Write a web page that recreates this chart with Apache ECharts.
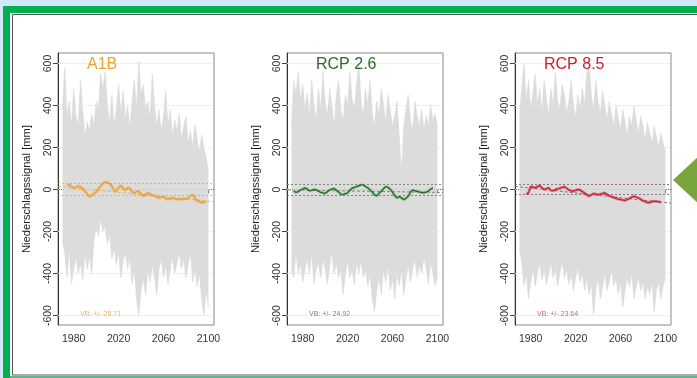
<!DOCTYPE html>
<html>
<head>
<meta charset="utf-8">
<script src="https://cdn.jsdelivr.net/npm/echarts@6/dist/echarts.min.js"></script>
<style>
  html, body { margin: 0; padding: 0; background: #cfe9f8; }
  #chart { width: 697px; height: 378px; }
</style>
</head>
<body>
<div id="chart"></div>
<script>
// Jahre der Ensemble-Hüllkurve (alle 2 Jahre)
const envStart = 1970
const envStep = 2

// A1B: obere / untere Hüllkurve des Ensembles [mm]
const upperA1B = [380, 580, 350, 420, 300, 480, 350, 300, 520, 380, 250, 320, 280, 360, 300, 420, 380, 550, 480, 560,
  400, 320, 450, 300, 380, 500, 360, 470, 330, 400, 290, 420, 520, 380, 610, 450, 500, 380, 420, 330,
  550, 400, 300, 380, 280, 350, 470, 300, 380, 250, 330, 280, 360, 240, 300, 350, 220, 280, 200, 310,
  240, 180, 260, 200, 150, 90]
const lowerA1B = [-250, -300, -420, -280, -450, -380, -320, -400, -350, -430, -300, -380, -320, -400, -250, -180, -220, -140, -200, -170,
  -260, -210, -330, -280, -360, -300, -420, -340, -300, -380, -320, -450, -380, -520, -600, -480, -420, -500, -380, -440,
  -360, -420, -500, -380, -330, -420, -360, -450, -380, -320, -400, -350, -300, -380, -330, -420, -360, -300, -440, -380,
  -460, -400, -520, -600, -480, -560]

// RCP 2.6
const upperRCP26 = [300, 520, 450, 560, 420, 500, 380, 460, 350, 520, 400, 330, 480, 380, 560, 420, 350, 480, 400, 300,
  450, 520, 380, 330, 450, 400, 560, 430, 380, 500, 600, 420, 350, 480, 400, 520, 360, 300, 420, 350,
  480, 400, 320, 450, 380, 300, 350, 420, 250, 80, 300, 380, 450, 330, 280, 420, 350, 300, 380, 280,
  350, 300, 400, 330, 360, 300]
const lowerRCP26 = [-380, -420, -300, -400, -350, -440, -380, -330, -400, -300, -450, -380, -350, -420, -330, -380, -450, -360, -300, -400,
  -350, -420, -380, -500, -400, -340, -420, -380, -450, -350, -400, -330, -420, -380, -460, -400, -520, -580, -480, -420,
  -500, -380, -440, -360, -480, -420, -520, -400, -460, -380, -500, -420, -360, -440, -380, -330, -420, -360, -400, -320,
  -380, -450, -340, -400, -460, -420]

// RCP 8.5
const upperRCP85 = [350, 480, 600, 420, 520, 380, 460, 550, 400, 480, 360, 520, 430, 350, 480, 400, 560, 420, 380, 500,
  450, 360, 420, 520, 400, 340, 450, 380, 480, 400, 550, 600, 450, 380, 520, 420, 360, 470, 400, 330,
  420, 360, 300, 400, 340, 280, 380, 320, 250, 350, 300, 400, 330, 260, 350, 300, 230, 320, 270, 220,
  300, 250, 200, 270, 220, 180]
const lowerRCP85 = [-280, -350, -460, -400, -520, -440, -380, -460, -400, -350, -430, -380, -450, -400, -350, -420, -380, -460, -400, -340,
  -420, -380, -450, -400, -480, -420, -370, -440, -400, -480, -420, -500, -440, -600, -480, -420, -520, -460, -400, -480,
  -440, -380, -460, -420, -500, -440, -560, -480, -420, -460, -400, -520, -460, -420, -480, -440, -520, -460, -500, -440,
  -580, -480, -440, -520, -460, -420]

// gleitende Mittel (alle 2 Jahre ab meanStart)
const meanA1B = [20, 24, 14, 8, 10, 16, 14, 2, -8, -20, -35, -28, -18, -12, 5, 16, 30, 35, 34, 28,
  15, -4, -6, 10, 19, 6, -3, 8, 6, -10, -16, -10, -8, -20, -32, -24, -16, -20, -28, -28,
  -36, -40, -36, -35, -42, -48, -44, -40, -42, -46, -48, -46, -44, -45, -42, -30, -24, -40, -54, -58,
  -62, -60, -57]
const meanRCP26 = [-8, -14, -10, -2, 2, 8, 2, -6, -4, 0, -2, -8, -13, -16, -19, -10, -2, 2, 5, -4,
  -12, -22, -24, -20, -16, -4, 6, 10, 14, 18, 22, 22, 14, 8, -2, -12, -26, -30, -18, -8,
  4, 14, 10, 2, -12, -30, -40, -34, -40, -48, -42, -32, -12, -3, -6, -8, -12, -14, -16, -12,
  -8, 2, 8]
const meanRCP85 = [-22, -16, 14, 12, 8, 14, 19, 8, 0, 4, 8, -4, -6, 0, 3, 6, 10, 13, 6, -2,
  -6, -8, -4, 0, -2, -10, -16, -26, -32, -26, -19, -22, -24, -22, -18, -16, -24, -30, -34, -38,
  -42, -46, -48, -50, -52, -48, -42, -36, -32, -36, -40, -46, -54, -58, -62, -62, -57, -56, -56, -58,
  -60]

// lineare Trends (Werte bei 1966 und 2105)
const trendYears = [1966, 2105]
const trendA1B = [15, -58]
const trendRCP26 = [-2, -14]
const trendRCP85 = [15, -65]

const yTicks = [-600, -400, -200, 0, 200, 400, 600]
const xTicks = [1980, 2000, 2020, 2040, 2060, 2080, 2100]
const xLabels = [1980, 2020, 2060, 2100]

const panels = [
  { title: 'A1B', vbText: 'VB: +/- 28.71', vb: 28.71, upper: upperA1B, lower: lowerA1B,
    mean: meanA1B, meanStart: 1974, trend: trendA1B,
    color: '#f0a02c', halo: 'rgba(240,160,44,0.35)', vbColor: 'rgba(240,160,44,0.75)', textColor: '#e8b468', left: 58 },
  { title: 'RCP 2.6', vbText: 'VB: +/- 24.92', vb: 24.92, upper: upperRCP26, lower: lowerRCP26,
    mean: meanRCP26, meanStart: 1972, trend: trendRCP26,
    color: '#2b6b2b', halo: 'rgba(120,190,110,0.45)', vbColor: 'rgba(110,110,110,0.8)', textColor: '#6e8a6e', left: 287 },
  { title: 'RCP 8.5', vbText: 'VB: +/- 23.64', vb: 23.64, upper: upperRCP85, lower: lowerRCP85,
    mean: meanRCP85, meanStart: 1976, trend: trendRCP85,
    color: '#cc2030', halo: 'rgba(200,40,60,0.3)', vbColor: 'rgba(120,90,95,0.8)', textColor: '#d0607c', left: 515 },
]

const font = "'Liberation Sans', Arial, sans-serif"
const toPairs = (arr, start, step) => arr.map((v, i) => [start + i * step, v])

const grid = [], xAxis = [], yAxis = [], series = [], title = [], graphicText = []

panels.forEach((p, i) => {
  grid.push({ left: p.left, top: 53, width: 156, height: 272, show: true, borderColor: '#8a8a8a', borderWidth: 1 })
  xAxis.push({
    type: 'value', gridIndex: i, min: 1966, max: 2105,
    axisLine: { show: true, lineStyle: { color: '#777' } },
    axisTick: { show: true, length: 4, customValues: xTicks, lineStyle: { color: '#555' } },
    axisLabel: { customValues: xLabels, margin: 9, color: '#333', fontSize: 10.5, fontFamily: font,
      formatter: v => String(v) },
    splitLine: { show: false },
  })
  yAxis.push({
    type: 'value', gridIndex: i, min: -645, max: 650,
    name: 'Niederschlagssignal [mm]', nameLocation: 'middle', nameGap: 26, nameRotate: 90,
    nameTextStyle: { color: '#222', fontSize: 11.2, fontFamily: font },
    axisLine: { show: true, lineStyle: { color: '#333' } },
    axisTick: { show: true, length: 5, customValues: yTicks, lineStyle: { color: '#444' } },
    axisLabel: { customValues: yTicks, rotate: 90, margin: 4, color: '#333', fontSize: 10.5, fontFamily: font,
      formatter: v => String(v) },
    splitLine: { show: false },
  })

  // Hintergrund-Gitterlinien
  series.push({
    type: 'line', xAxisIndex: i, yAxisIndex: i, data: [], z: 1, silent: true,
    markLine: {
      silent: true, symbol: 'none', label: { show: false },
      lineStyle: { color: '#e2e2e2', type: 'dotted', width: 1 },
      data: yTicks.map(v => ({ yAxis: v })),
    },
  })
  // Ensemble-Hüllkurven
  ;[p.upper, p.lower].forEach(env => {
    series.push({
      type: 'line', xAxisIndex: i, yAxisIndex: i, z: 2, silent: true,
      symbol: 'none', data: toPairs(env, envStart, envStep),
      lineStyle: { width: 0.6, color: '#d8d8d8' },
      areaStyle: { color: '#dcdcdc', opacity: 1 },
    })
  })
  // Trendlinie + Variabilitätsband
  series.push({
    type: 'line', xAxisIndex: i, yAxisIndex: i, z: 4, silent: true,
    symbol: 'none', data: trendYears.map((y, k) => [y, p.trend[k]]),
    lineStyle: { width: 1, type: [3, 2], color: p.vbColor },
    markLine: {
      silent: true, symbol: 'none', label: { show: false },
      lineStyle: { color: p.vbColor, type: [2, 2], width: 1 },
      data: [{ yAxis: p.vb }, { yAxis: -p.vb }],
    },
  })
  // gleitendes Mittel
  series.push({
    type: 'line', xAxisIndex: i, yAxisIndex: i, z: 5, silent: true,
    symbol: 'none', data: toPairs(p.mean, p.meanStart, 2),
    lineStyle: { width: 3.2, color: p.halo },
  })
  series.push({
    type: 'line', xAxisIndex: i, yAxisIndex: i, z: 6, silent: true,
    symbol: 'none', data: toPairs(p.mean, p.meanStart, 2),
    lineStyle: { width: 1.4, color: p.color },
  })

  title.push({
    text: p.title, left: p.left + 29, top: 57, padding: 0,
    textStyle: { color: p.color, fontSize: 16, fontWeight: 'normal', fontFamily: font },
  })
  graphicText.push({
    type: 'text', left: p.left + 22, top: 311, z: 100,
    style: { text: p.vbText, fill: p.textColor, fontSize: 7, fontFamily: font },
  })
})

const chart = echarts.init(document.getElementById('chart'), null, { renderer: 'canvas' })
chart.setOption({
  backgroundColor: '#cfe9f8',
  animation: false,
  title,
  grid, xAxis, yAxis, series,
  graphic: [
    { type: 'rect', shape: { x: 3, y: 6, width: 694, height: 372 }, style: { fill: '#00b050' }, z: -10 },
    { type: 'rect', shape: { x: 10, y: 13, width: 687, height: 363 }, style: { fill: '#ffffff' }, z: -9 },
    { type: 'rect', shape: { x: 10, y: 376, width: 687, height: 2 }, style: { fill: '#62b58c' }, z: -9 },
    { type: 'rect', shape: { x: 12.5, y: 14.5, width: 700, height: 360.5 },
      style: { fill: 'none', stroke: '#555', lineWidth: 1 }, z: -8 },
    { type: 'polygon', shape: { points: [[673, 180], [699, 156], [699, 204]] },
      style: { fill: '#78a53c' }, z: 50 },
    ...graphicText,
  ],
})
</script>
</body>
</html>
